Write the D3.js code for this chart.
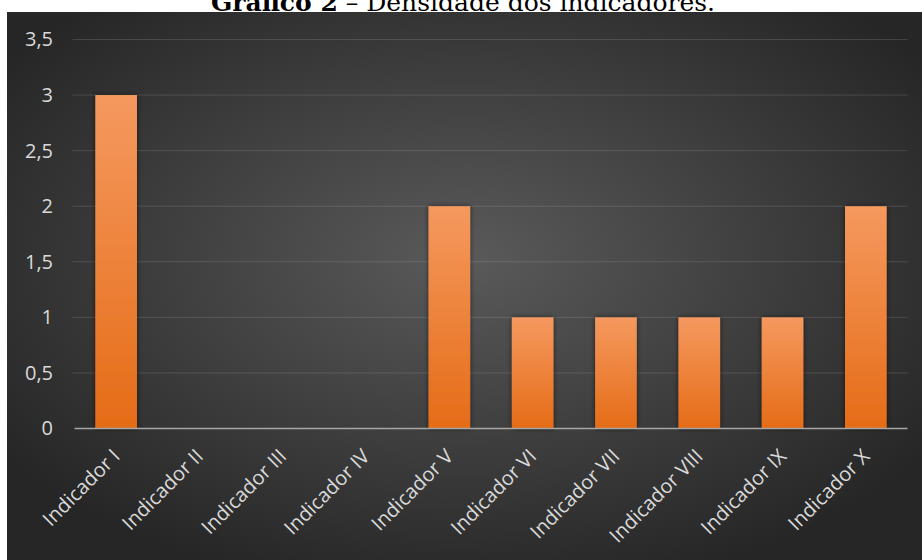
<!DOCTYPE html>
<html>
<head>
<meta charset="utf-8">
<script src="https://cdn.jsdelivr.net/npm/d3@7/dist/d3.min.js"></script>
<style>
  body { margin: 0; background: #fff; }
  svg { display: block; }
</style>
</head>
<body>
<div id="chart"></div>
<script>
const categories = [
  "Indicador I", "Indicador II", "Indicador III", "Indicador IV", "Indicador V",
  "Indicador VI", "Indicador VII", "Indicador VIII", "Indicador IX", "Indicador X"
];
const values = [3, 0, 0, 0, 2, 1, 1, 1, 1, 2];
const yTicks = [0, 0.5, 1, 1.5, 2, 2.5, 3, 3.5];

const width = 922, height = 560;
const panel = { x: 7, y: 12 };
const margin = { left: 74.5, right: 14.5, top: 39.5, bottom: 131.5 };

const svg = d3.select("#chart").append("svg")
  .attr("width", width)
  .attr("height", height);

const defs = svg.append("defs");

// background radial gradient of the chart area
const bg = defs.append("radialGradient")
  .attr("id", "bgGrad")
  .attr("cx", "50%").attr("cy", "45%").attr("r", "62%");
bg.append("stop").attr("offset", "0%").attr("stop-color", "#5a5a5a");
bg.append("stop").attr("offset", "100%").attr("stop-color", "#262626");

// bar gradient, light on top
const barGrad = defs.append("linearGradient")
  .attr("id", "barGrad")
  .attr("x1", 0).attr("y1", 0).attr("x2", 0).attr("y2", 1);
barGrad.append("stop").attr("offset", "0%").attr("stop-color", "#f5995f");
barGrad.append("stop").attr("offset", "100%").attr("stop-color", "#e56c17");

const shadow = defs.append("filter")
  .attr("id", "shadow")
  .attr("x", "-30%").attr("y", "-30%").attr("width", "160%").attr("height", "160%");
shadow.append("feDropShadow")
  .attr("dx", 0).attr("dy", 0).attr("stdDeviation", 2.5)
  .attr("flood-color", "#000").attr("flood-opacity", 0.6);

// title, partly hidden behind the panel (as in the source)
const title = svg.append("text")
  .attr("x", 463)
  .attr("y", 11)
  .attr("text-anchor", "middle")
  .style("font-family", "'DejaVu Serif', 'Liberation Serif', serif")
  .style("font-size", "25px")
  .attr("fill", "#000");
title.append("tspan").attr("font-weight", "bold").text("Gráfico 2");
title.append("tspan").text(" – Densidade dos indicadores.");

svg.append("rect")
  .attr("x", panel.x).attr("y", panel.y)
  .attr("width", width - panel.x).attr("height", height - panel.y)
  .attr("fill", "url(#bgGrad)");

const x = d3.scaleBand()
  .domain(categories)
  .range([margin.left, width - margin.right])
  .paddingInner(0.5)
  .paddingOuter(0.25);

const y = d3.scaleLinear()
  .domain([0, 3.5])
  .range([height - margin.bottom, margin.top]);

// gridlines
svg.append("g")
  .selectAll("line")
  .data(yTicks.filter(d => d > 0))
  .join("line")
  .attr("x1", margin.left - 2).attr("x2", width - margin.right)
  .attr("y1", d => y(d)).attr("y2", d => y(d))
  .attr("stroke", "#ffffff")
  .attr("stroke-opacity", 0.13)
  .attr("stroke-width", 1);

// y axis labels
const yAxis = d3.axisLeft(y)
  .tickValues(yTicks)
  .tickSize(0)
  .tickPadding(0)
  .tickFormat(d => String(d).replace(".", ","));
svg.append("g")
  .attr("transform", `translate(53,0)`)
  .call(yAxis)
  .call(g => g.select(".domain").remove())
  .selectAll("text")
  .attr("fill", "#d9d9d9")
  .style("font-family", "'Open Sans', 'Noto Sans', sans-serif")
  .style("font-size", "20px");

// bars
svg.append("g")
  .selectAll("rect")
  .data(values.map((v, i) => ({ c: categories[i], v })).filter(d => d.v > 0))
  .join("rect")
  .attr("x", d => x(d.c))
  .attr("width", x.bandwidth())
  .attr("y", d => y(d.v))
  .attr("height", d => y(0) - y(d.v))
  .attr("fill", "url(#barGrad)")
  .attr("filter", "url(#shadow)");

// baseline
svg.append("line")
  .attr("x1", margin.left).attr("x2", width - margin.right)
  .attr("y1", y(0)).attr("y2", y(0))
  .attr("stroke", "#a6a6a6")
  .attr("stroke-width", 1.5);

// x axis labels
const xAxis = d3.axisBottom(x).tickSize(0).tickPadding(0);
svg.append("g")
  .attr("transform", `translate(0,${y(0)})`)
  .call(xAxis)
  .call(g => g.select(".domain").remove())
  .selectAll("text")
  .attr("fill", "#d9d9d9")
  .style("font-family", "'Open Sans', 'Noto Sans', sans-serif")
  .style("font-size", "20px")
  .attr("text-anchor", "end")
  .attr("dy", 0)
  .attr("transform", "translate(5,29) rotate(-45)");
</script>
</body>
</html>
